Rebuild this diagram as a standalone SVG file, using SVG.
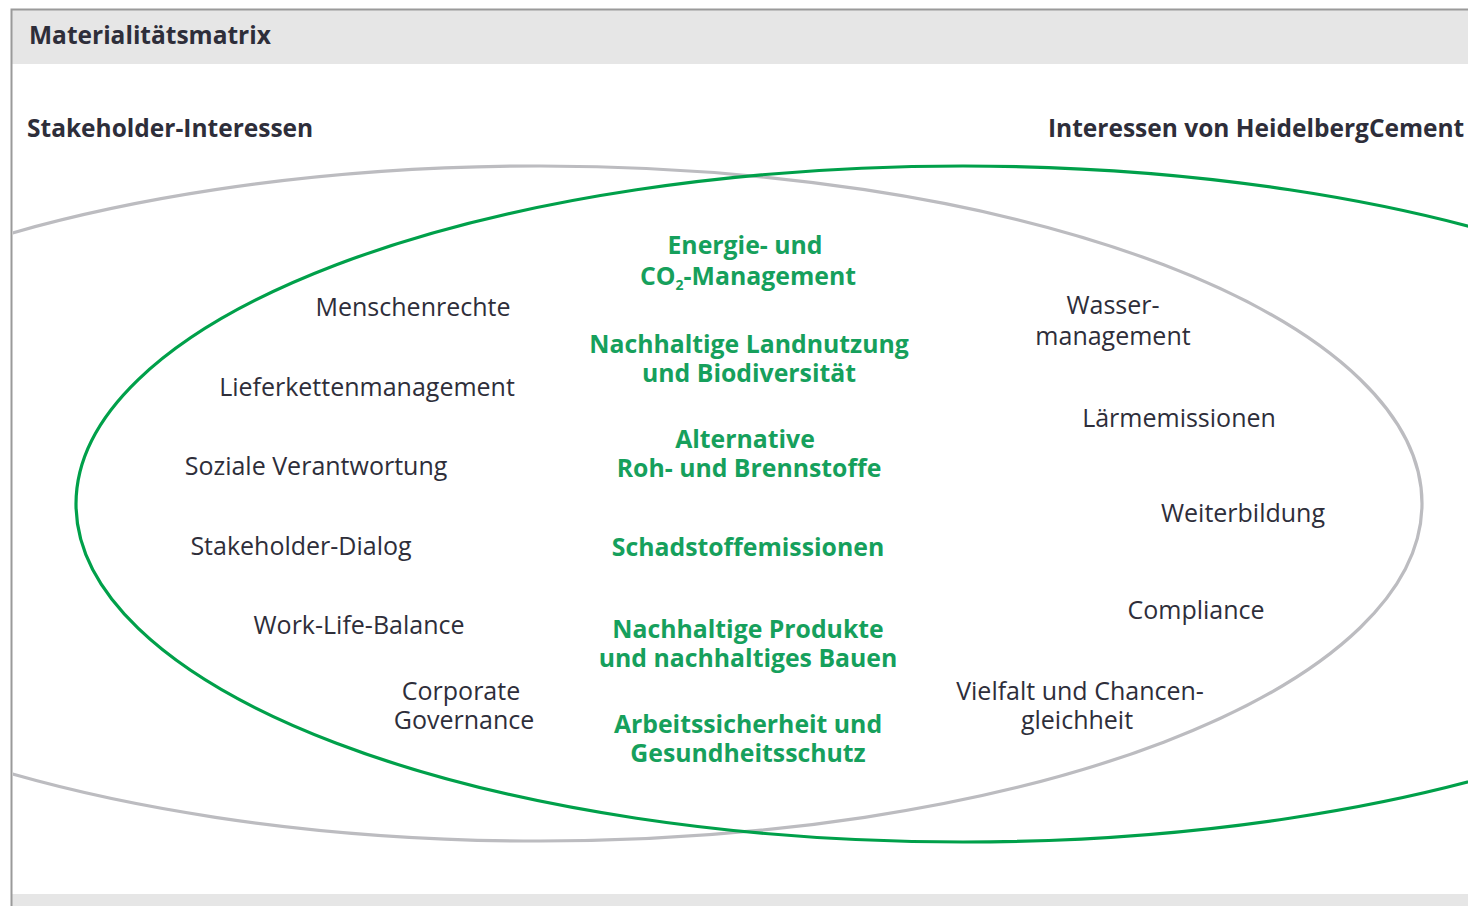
<svg xmlns="http://www.w3.org/2000/svg" width="1468" height="906" viewBox="0 0 1468 906">
  <style>
    .hd { font-family: "Open Sans", Lato, sans-serif; font-weight: bold; font-size: 24.5px; fill: #2e2e3a; }
    .lbl { font-family: "Open Sans", Lato, sans-serif; font-size: 25px; fill: #2e2e3a; text-anchor: middle; }
    .key { font-family: "Open Sans", Lato, sans-serif; font-weight: bold; font-size: 24.8px; fill: #16a05c; text-anchor: middle; }
    .ring { fill: none; stroke-width: 3.2; }
  </style>
  <defs>
    <clipPath id="panel"><rect x="13" y="64" width="1455" height="830"/></clipPath>
  </defs>

  <!-- frame and title band -->
  <rect x="0" y="0" width="1468" height="906" fill="#ffffff"/>
  <rect x="12" y="10" width="1456" height="54" fill="#e6e6e6"/>
  <rect x="12" y="894" width="1456" height="12" fill="#e6e6e6"/>
  <path d="M11.5 906 V9.5 H1468" fill="none" stroke="#9a9a9a" stroke-width="2"/>
  <text class="hd" x="29" y="44">Materialitätsmatrix</text>

  <!-- axis headings -->
  <text class="hd" x="27" y="137">Stakeholder-Interessen</text>
  <text class="hd" x="1048" y="137">Interessen von HeidelbergCement</text>

  <!-- overlapping interest circles -->
  <g id="connectors" clip-path="url(#panel)">
    <ellipse id="stakeholder-ring" class="ring" cx="540" cy="503.5" rx="882" ry="337.5" stroke="#bcbcc0"/>
    <ellipse id="company-ring" class="ring" cx="963" cy="504" rx="887" ry="338" stroke="#00a04a"/>
  </g>

  <!-- stakeholder-only topics -->
  <g id="menschenrechte"><text class="lbl" x="413" y="316">Menschenrechte</text></g>
  <g id="lieferketten"><text class="lbl" x="367" y="396">Lieferkettenmanagement</text></g>
  <g id="soziale-verantwortung"><text class="lbl" x="316" y="475">Soziale Verantwortung</text></g>
  <g id="stakeholder-dialog"><text class="lbl" x="301" y="555">Stakeholder-Dialog</text></g>
  <g id="work-life"><text class="lbl" x="359" y="634">Work-Life-Balance</text></g>
  <g id="governance">
    <text class="lbl" x="461" y="700">Corporate</text>
    <text class="lbl" x="464" y="729">Governance</text>
  </g>

  <!-- shared key topics -->
  <g id="energie">
    <text class="key" x="745" y="254">Energie- und</text>
    <text class="key" x="748" y="285">CO<tspan font-size="14" dy="5">2</tspan><tspan dy="-5">-Management</tspan></text>
  </g>
  <g id="landnutzung">
    <text class="key" x="749" y="353">Nachhaltige Landnutzung</text>
    <text class="key" x="749" y="382">und Biodiversität</text>
  </g>
  <g id="rohstoffe">
    <text class="key" x="745" y="448">Alternative</text>
    <text class="key" x="749" y="477">Roh- und Brennstoffe</text>
  </g>
  <g id="schadstoffe"><text class="key" x="748" y="556">Schadstoffemissionen</text></g>
  <g id="produkte">
    <text class="key" x="748" y="638">Nachhaltige Produkte</text>
    <text class="key" x="748" y="667">und nachhaltiges Bauen</text>
  </g>
  <g id="arbeitssicherheit">
    <text class="key" x="748" y="733">Arbeitssicherheit und</text>
    <text class="key" x="748" y="762">Gesundheitsschutz</text>
  </g>

  <!-- company-only topics -->
  <g id="wasser">
    <text class="lbl" x="1113" y="314">Wasser-</text>
    <text class="lbl" x="1113" y="345">management</text>
  </g>
  <g id="laerm"><text class="lbl" x="1179" y="427">Lärmemissionen</text></g>
  <g id="weiterbildung"><text class="lbl" x="1243" y="522">Weiterbildung</text></g>
  <g id="compliance"><text class="lbl" x="1196" y="619">Compliance</text></g>
  <g id="vielfalt">
    <text class="lbl" x="1080" y="700">Vielfalt und Chancen-</text>
    <text class="lbl" x="1077" y="729">gleichheit</text>
  </g>
</svg>
